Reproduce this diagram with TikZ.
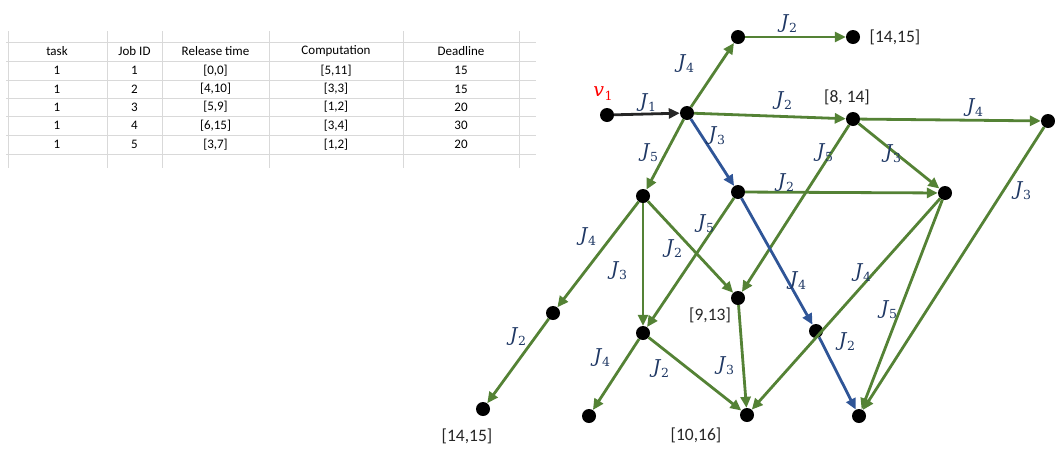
\documentclass[tikz,border=0pt]{standalone}
\usepackage{fontspec}
\setmainfont{Carlito}
\newfontfamily\jfont{DejaVu Serif}
\usetikzlibrary{arrows.meta}
\definecolor{eg}{RGB}{84,130,53}
\definecolor{eb}{RGB}{47,85,151}
\definecolor{lb}{RGB}{31,56,100}
\definecolor{kk}{RGB}{38,38,38}
\definecolor{gridc}{RGB}{217,217,217}
\definecolor{vred}{RGB}{255,0,0}
\newcommand{\jlab}[2]{{\jfont\fontsize{19}{21}\selectfont\itshape #1}\kern0.5pt\raisebox{-4pt}{\jfont\fontsize{12.5}{14}\selectfont #2}}
\begin{document}
\begin{tikzpicture}[x=1pt,y=-1pt,
  dot/.style={circle,fill=black,minimum size=14pt,inner sep=0pt},
  gline/.style={draw=eg,line width=2.8pt,-{Triangle[length=11pt,width=10pt]}},
  bline/.style={draw=eb,line width=2.8pt,-{Triangle[length=11pt,width=10pt]}},
  kline/.style={draw=kk,line width=2.8pt,-{Triangle[length=11pt,width=10pt]}},
  jl/.style={text=lb,inner sep=0pt},
  nl/.style={text=kk,inner sep=0pt,font=\fontsize{17.5}{20}\selectfont},
  tl/.style={inner sep=0pt,font=\fontsize{13}{15}\selectfont},
  gridl/.style={draw=gridc,line width=0.9pt}]
\useasboundingbox (0,0) rectangle (1055,448);
% ---------- table ----------
\foreach \yy in {42,61,80,98,116,135,154}{\draw[gridl] (6,\yy) -- (536,\yy);}
\foreach \xx in {8,107,162,269,403,519}{\draw[gridl] (\xx,31) -- (\xx,168);}
\node[tl] (h1) at (57,51.5) {task};
\node[tl] (h2) at (134.5,51.5) {Job ID};
\node[tl] (h3) at (215.5,51.5) {Release time};
\node[tl] (h4) at (336,51.5) {Computation};
\node[tl] (h5) at (461,51.5) {Deadline};
\foreach \yy/\id/\rel/\comp/\dl [count=\i] in
  {70.5/1/{[0,0]}/{[5,11]}/15, 89/2/{[4,10]}/{[3,3]}/15, 107/3/{[5,9]}/{[1,2]}/20,
   125.5/4/{[6,15]}/{[3,4]}/30, 144.5/5/{[3,7]}/{[1,2]}/20}{
  \node[tl] (ta\i) at (57,\yy) {1};
  \node[tl] (tb\i) at (134.5,\yy) {\id};
  \node[tl] (tc\i) at (215.5,\yy) {\rel};
  \node[tl] (td\i) at (336,\yy) {\comp};
  \node[tl] (te\i) at (461,\yy) {\dl};
}
% ---------- graph nodes ----------
\node[dot] (v1) at (607,115) {};
\node[dot] (A) at (687,113) {};
\node[dot] (B) at (738,37) {};
\node[dot] (C) at (853,37) {};
\node[dot] (D) at (853,119) {};
\node[dot] (E) at (1048,121) {};
\node[dot] (F) at (738,192) {};
\node[dot] (G) at (945,193) {};
\node[dot] (H) at (643,196) {};
\node[dot] (I) at (553,313) {};
\node[dot] (J) at (643,333) {};
\node[dot] (K) at (738,298) {};
\node[dot] (L) at (483,409) {};
\node[dot] (M) at (589,416) {};
\node[dot] (N) at (747,415) {};
\node[dot] (O) at (816,331) {};
\node[dot] (P) at (859,416) {};
% ---------- edges ----------
\draw[kline] (v1) -- (A);
\draw[gline] (A) -- (B);
\draw[gline] (B) -- (C);
\draw[gline] (A) -- (D);
\draw[bline] (A) -- (F);
\draw[gline] (A) -- (H);
\draw[gline] (D) -- (E);
\draw[gline] (D) -- (G);
\draw[gline] (D) -- (K);
\draw[gline] (E) -- (P);
\draw[gline] (F) -- (G);
\draw[gline] (F) -- (J);
\draw[bline] (F) -- (O);
\draw[gline] (H) -- (I);
\draw[gline] (H) -- (J);
\draw[gline] (H) -- (K);
\draw[gline] (I) -- (L);
\draw[gline] (J) -- (M);
\draw[gline] (J) -- (N);
\draw[gline] (K) -- (N);
\draw[gline] (G) -- (N);
\draw[gline] (G) -- (P);
\draw[bline] (O) -- (P);
% ---------- edge labels ----------
\node[inner sep=0pt,text=vred] (lv) at (603,94) {\jlab{v}{1}};
\node[jl] (j1) at (648,103) {\jlab{J}{1}};
\node[jl] (j2) at (686,64) {\jlab{J}{4}};
\node[jl] (j3) at (789,24) {\jlab{J}{2}};
\node[jl] (j4) at (784,101) {\jlab{J}{2}};
\node[jl] (j5) at (717,136) {\jlab{J}{3}};
\node[jl] (j6) at (650,153) {\jlab{J}{5}};
\node[jl] (j7) at (975,108) {\jlab{J}{4}};
\node[jl] (j8) at (825,153) {\jlab{J}{5}};
\node[jl] (j9) at (893,154) {\jlab{J}{3}};
\node[jl] (j10) at (786,183) {\jlab{J}{2}};
\node[jl] (j11) at (1023,191) {\jlab{J}{3}};
\node[jl] (j12) at (588,237) {\jlab{J}{4}};
\node[jl] (j13) at (706,224) {\jlab{J}{5}};
\node[jl] (j14) at (674,249) {\jlab{J}{2}};
\node[jl] (j15) at (619,271) {\jlab{J}{3}};
\node[jl] (j16) at (518,337) {\jlab{J}{2}};
\node[jl] (j17) at (602,358) {\jlab{J}{4}};
\node[jl] (j18) at (661,369) {\jlab{J}{2}};
\node[jl] (j19) at (726,366) {\jlab{J}{3}};
\node[jl] (j20) at (798,281) {\jlab{J}{4}};
\node[jl] (j21) at (863,273) {\jlab{J}{4}};
\node[jl] (j22) at (889,310) {\jlab{J}{5}};
\node[jl] (j23) at (847,342) {\jlab{J}{2}};
% ---------- interval labels ----------
\node[nl] (n1) at (895,37) {[14,15]};
\node[nl] (n2) at (847,97) {[8, 14]};
\node[nl] (n3) at (710,315) {[9,13]};
\node[nl] (n4) at (467,436) {[14,15]};
\node[nl] (n5) at (696,435) {[10,16]};
\end{tikzpicture}
\end{document}
